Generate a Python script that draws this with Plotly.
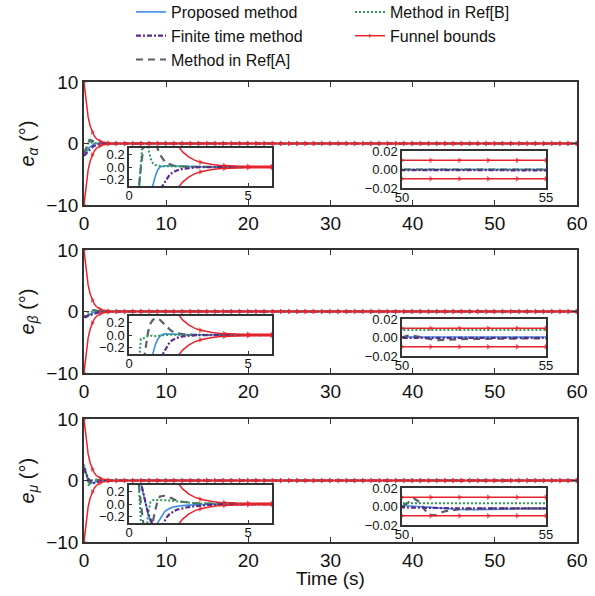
import plotly.graph_objects as go

# ---------------- data ----------------
T_TR = [0, 0.1, 0.2, 0.3, 0.4, 0.5, 0.6, 0.7, 0.8, 0.9, 1.0, 1.1, 1.2, 1.3, 1.4,
        1.5, 1.6, 1.7, 1.8, 1.9, 2.0, 2.25, 2.5, 2.75, 3.0, 3.5, 4.0, 4.5, 5.0, 6.0]
T_SS = [8, 50, 50.2, 50.4, 50.6, 50.8, 51.0, 51.2, 51.4, 51.6, 51.8, 52.0,
        52.5, 53.0, 53.5, 54.0, 54.5, 55.0, 60]

# e_alpha
ALPHA_PROP_TR = [-2.0, -1.75, -1.5, -1.27, -1.05, -0.86, -0.7, -0.57, -0.46, -0.37, -0.29, -0.15,
                 -0.05, 0.0, 0.015, 0.02, 0.02, 0.018, 0.016, 0.014, 0.012, 0.008, 0.006, 0.004,
                 0.003, 0.001, 0.0, 0.0, 0.0, 0.0]
ALPHA_FIN_TR = [-2.0, -1.85, -1.7, -1.55, -1.4, -1.25, -1.1, -0.96, -0.83, -0.71, -0.6, -0.5,
                -0.42, -0.36, -0.31, -0.23, -0.17, -0.125, -0.095, -0.072, -0.055, -0.03, -0.016,
                -0.008, -0.004, -0.001, 0.0, 0.0, 0.0, 0.0]
ALPHA_REFA_TR = [-1.6, -1.3, -1.0, -0.7, -0.38, 0.0, 0.3, 0.5, 0.58, 0.55, 0.48, 0.38, 0.28, 0.2,
                 0.14, 0.09, 0.06, 0.04, 0.03, 0.02, 0.015, 0.008, 0.004, 0.002, 0.001, 0.0, 0.0,
                 0.0, 0.0, 0.0]
ALPHA_REFB_TR = [-1.3, -1.15, -0.95, -0.72, -0.45, 0.1, 0.55, 0.6, 0.32, 0.14, 0.06, 0.03, 0.02,
                 0.015, 0.012, 0.012, 0.011, 0.01, 0.009, 0.008, 0.007, 0.005, 0.003, 0.002, 0.001,
                 0.0, 0.0, 0.0, 0.0, 0.0]
ALPHA_PROP_SS = [0.0, 0.0, 0.0, 0.0, 0.0, 0.0, 0.0, 0.0, 0.0, 0.0, 0.0, 0.0, 0.0, 0.0, 0.0, 0.0,
                 0.0, 0.0, 0.0]
ALPHA_FIN_SS = [-0.0005, -0.0005, -0.0005, -0.0005, -0.0005, -0.0005, -0.0005, -0.0005, -0.0005,
                -0.0005, -0.0005, -0.0005, -0.0006, -0.0007, -0.0008, -0.0009, -0.001, -0.001,
                -0.001]
ALPHA_REFA_SS = [0.0, 0.0, 0.0, 0.0, 0.0, 0.0, 0.0, 0.0, 0.0, 0.0, 0.0, 0.0, 0.0, 0.0, 0.0, 0.0,
                 0.0, 0.0, 0.0]
ALPHA_REFB_SS = [0.0, 0.0, 0.0, 0.0, 0.0, 0.0, 0.0, 0.0, 0.0, 0.0, 0.0, 0.0, 0.0, 0.0, 0.0, 0.0,
                 0.0, 0.0, 0.0]

# e_beta
BETA_PROP_TR = [-0.9, -0.85, -0.8, -0.72, -0.65, -0.58, -0.52, -0.46, -0.4, -0.35, -0.3, -0.16,
                -0.07, -0.02, 0.01, 0.02, 0.02, 0.018, 0.015, 0.013, 0.01, 0.007, 0.005, 0.003,
                0.002, 0.001, 0.0005, 0.0005, 0.0005, 0.0005]
BETA_FIN_TR = [-0.9, -0.87, -0.84, -0.8, -0.76, -0.72, -0.68, -0.63, -0.58, -0.53, -0.48, -0.43,
               -0.38, -0.34, -0.31, -0.24, -0.17, -0.12, -0.085, -0.06, -0.045, -0.022, -0.01,
               -0.005, -0.002, -0.001, -0.0005, -0.0005, -0.0005, -0.0005]
BETA_REFA_TR = [-0.8, -0.9, -0.95, -0.9, -0.8, -0.65, -0.45, -0.2, 0.05, 0.18, 0.24, 0.26, 0.26,
                0.24, 0.2, 0.16, 0.12, 0.09, 0.06, 0.04, 0.03, 0.015, 0.006, 0.002, 0.0, -0.001,
                -0.0015, -0.0015, -0.0015, -0.0015]
BETA_REFB_TR = [-0.6, -0.9, -1.0, -0.9, -0.5, -0.06, -0.05, -0.04, -0.015, -0.01, -0.02, -0.02,
                -0.015, -0.01, -0.005, 0.0, 0.002, 0.002, 0.002, 0.003, 0.003, 0.003, 0.004, 0.004,
                0.005, 0.005, 0.006, 0.007, 0.007, 0.008]
BETA_PROP_SS = [0.0005, 0.0005, 0.0005, 0.0005, 0.0005, 0.0005, 0.0005, 0.0005, 0.0005, 0.0005,
                0.0005, 0.0005, 0.0005, 0.0005, 0.0005, 0.0005, 0.0005, 0.0005, 0.0005]
BETA_FIN_SS = [-0.0005, -0.0005, -0.0005, -0.0005, -0.0005, -0.0005, -0.0005, -0.0005, -0.0005,
               -0.0005, -0.0005, -0.0005, -0.0005, -0.0005, -0.0005, -0.0005, -0.0005, -0.0005,
               -0.0005]
BETA_REFA_SS = [-0.0015, 0.0, 0.002, 0.0018, 0.0005, -0.001, -0.0025, -0.003, -0.0025, -0.002,
                -0.002, -0.0018, -0.0015, -0.0012, -0.0012, -0.001, -0.001, -0.001, -0.001]
BETA_REFB_SS = [0.008, 0.008, 0.008, 0.008, 0.008, 0.008, 0.008, 0.008, 0.008, 0.008, 0.008,
                0.008, 0.008, 0.008, 0.008, 0.008, 0.008, 0.008, 0.008]

# e_mu
MU_PROP_TR = [2.0, 1.6, 1.25, 0.9, 0.6, 0.32, 0.15, 0.0, -0.15, -0.28, -0.36, -0.36, -0.3, -0.22,
              -0.16, -0.12, -0.09, -0.07, -0.055, -0.045, -0.037, -0.025, -0.017, -0.011, -0.008,
              -0.004, -0.002, -0.001, -0.001, 0.001]
MU_FIN_TR = [2.0, 1.62, 1.27, 0.93, 0.62, 0.34, 0.16, 0.01, -0.14, -0.27, -0.38, -0.43, -0.44,
             -0.4, -0.33, -0.26, -0.2, -0.16, -0.13, -0.11, -0.09, -0.065, -0.048, -0.035,
             -0.025, -0.012, -0.006, -0.003, -0.002, -0.001]
MU_REFA_TR = [2.2, 1.7, 1.2, 0.75, 0.35, 0.0, -0.3, -0.42, -0.42, -0.36, -0.28, -0.1, 0.05, 0.12,
              0.13, 0.13, 0.12, 0.11, 0.09, 0.07, 0.055, 0.035, 0.022, 0.013, 0.008, 0.003, 0.001,
              0.0, 0.0, -0.001]
MU_REFB_TR = [2.6, 2.2, 1.6, 0.9, 0.35, -0.3, -0.9, -0.6, -0.15, 0.03, 0.06, 0.065, 0.065, 0.065,
              0.065, 0.06, 0.06, 0.055, 0.05, 0.045, 0.04, 0.03, 0.02, 0.013, 0.009, 0.005, 0.004,
              0.0035, 0.0035, 0.0035]
MU_PROP_SS = [0.0, 0.001, 0.0008, 0.0004, 0.0, -0.0005, -0.001, -0.0015, -0.002, -0.0025, -0.003,
              -0.0033, -0.0035, -0.0035, -0.003, -0.0025, -0.002, -0.002, -0.002]
MU_FIN_SS = [-0.001, -0.001, -0.001, -0.0012, -0.0013, -0.0014, -0.0015, -0.0016, -0.0017,
             -0.0018, -0.0019, -0.002, -0.002, -0.002, -0.002, -0.002, -0.002, -0.002, -0.002]
MU_REFA_SS = [-0.002, 0.0, 0.004, 0.009, 0.005, -0.004, -0.009, -0.0095, -0.006, -0.0045,
              -0.0035, -0.003, -0.0025, -0.002, -0.002, -0.002, -0.002, -0.002, -0.002]
MU_REFB_SS = [0.0035, 0.0035, 0.0035, 0.0035, 0.0035, 0.0035, 0.0035, 0.0035, 0.0035, 0.0035,
              0.0035, 0.0035, 0.0035, 0.0035, 0.0035, 0.0035, 0.0035, 0.0035, 0.0035]

# funnel bounds (same in every panel)
FUNNEL_T = [0, 0.25, 0.5, 0.75, 1, 1.25, 1.5, 1.75, 2, 2.25, 2.5, 2.75, 3, 3.25, 3.5, 3.75, 4,
            4.5, 5, 6] + list(range(7, 61))
FUNNEL_V = [10.0, 6.57, 4.32, 2.84, 1.87, 1.23, 0.81, 0.54, 0.357, 0.238, 0.16, 0.109, 0.075,
            0.052, 0.038, 0.028, 0.022, 0.015, 0.012, 0.0104] + [0.01] * 54

PANEL_LABELS = ["<i>e</i><sub><i>α</i></sub> (°)", "<i>e</i><sub><i>β</i></sub> (°)",
                "<i>e</i><sub><i>μ</i></sub> (°)"]
MAIN_TICKS = [0, 10, 20, 30, 40, 50, 60]

SERIES = [
    ("Proposed method", [(ALPHA_PROP_TR, ALPHA_PROP_SS), (BETA_PROP_TR, BETA_PROP_SS), (MU_PROP_TR, MU_PROP_SS)]),
    ("Method in Ref[A]", [(ALPHA_REFA_TR, ALPHA_REFA_SS), (BETA_REFA_TR, BETA_REFA_SS), (MU_REFA_TR, MU_REFA_SS)]),
    ("Method in Ref[B]", [(ALPHA_REFB_TR, ALPHA_REFB_SS), (BETA_REFB_TR, BETA_REFB_SS), (MU_REFB_TR, MU_REFB_SS)]),
    ("Finite time method", [(ALPHA_FIN_TR, ALPHA_FIN_SS), (BETA_FIN_TR, BETA_FIN_SS), (MU_FIN_TR, MU_FIN_SS)]),
]

STYLES = {
    "Proposed method": dict(color="#3d8ee6", width=1.6, dash="solid", legend="legend", rank=1),
    "Finite time method": dict(color="#5b2a8c", width=2.2, dash="5px,2px,2px,2px", legend="legend", rank=2),
    "Method in Ref[A]": dict(color="#5a5f69", width=2.2, dash="7px,5px", legend="legend", rank=3),
    "Method in Ref[B]": dict(color="#2f9a57", width=2.0, dash="2px,2px", legend="legend2", rank=1),
}
RED = "#e8232b"

# ---------------- layout geometry (pixels of a 595x596 canvas) ----------------
W, H = 595, 596
def px_x(a, b):
    return [a / W, b / W]
def px_y(top, bottom):
    return [1 - bottom / H, 1 - top / H]

PANEL_TOPS = [82, 250, 419]
PANEL_H = 123
MAIN_LEFT, MAIN_RIGHT = 84, 577

fig = go.Figure()
layout = {}
annotations = []
AXC = "#333333"
TXT = "#111111"

def ax_name(k, letter):
    return f"{letter}axis" if k == 1 else f"{letter}axis{k}"
def ref(k, letter):
    return letter if k == 1 else f"{letter}{k}"

def main_axis(**kw):
    d = dict(ticks="inside", ticklen=5, tickwidth=1.2, tickcolor=AXC, showline=True,
             linecolor=AXC, linewidth=1.5, mirror="ticks", showgrid=False, zeroline=False,
             tickfont=dict(size=19, color=TXT))
    d.update(kw)
    return d

def inset_axis(**kw):
    d = dict(ticks="inside", ticklen=3, tickcolor=AXC, showline=True, linecolor=AXC,
             linewidth=1.5, mirror=True, showgrid=False, zeroline=False,
             tickfont=dict(size=13, color=TXT))
    d.update(kw)
    return d

for p in range(3):
    top = PANEL_TOPS[p]
    km, kl, kr = 3 * p + 1, 3 * p + 2, 3 * p + 3
    layout[ax_name(km, "x")] = main_axis(domain=px_x(MAIN_LEFT, MAIN_RIGHT), range=[0, 60],
                                         tickvals=MAIN_TICKS, anchor=ref(km, "y"))
    layout[ax_name(km, "y")] = main_axis(domain=px_y(top, top + PANEL_H), range=[-10, 10],
                                         tickvals=[-10, 0, 10], anchor=ref(km, "x"))
    layout[ax_name(kl, "x")] = inset_axis(domain=px_x(129, 272), range=[0, 6], tickvals=[0, 5],
                                          ticklabelstandoff=-3, anchor=ref(kl, "y"))
    layout[ax_name(kl, "y")] = inset_axis(domain=px_y(top + 66, top + 104), range=[-0.3, 0.3],
                                          tickvals=[-0.2, 0, 0.2], tickformat=".1f",
                                          anchor=ref(kl, "x"))
    layout[ax_name(kr, "x")] = inset_axis(domain=px_x(402, 546), range=[50, 55], tickvals=[50, 55],
                                          ticklabelstandoff=-3, anchor=ref(kr, "y"))
    layout[ax_name(kr, "y")] = inset_axis(domain=px_y(top + 69, top + 106), range=[-0.02, 0.02],
                                          tickvals=[-0.02, 0, 0.02], tickformat=".2f",
                                          anchor=ref(kr, "x"))

    for k in (km, kl, kr):
        xr, yr = ref(k, "x"), ref(k, "y")
        for name, per_panel in SERIES:
            st = STYLES[name]
            tr, ss = per_panel[p]
            fig.add_trace(go.Scatter(
                x=T_TR + T_SS, y=tr + ss, mode="lines", name=name,
                line=dict(color=st["color"], width=st["width"], dash=st["dash"]),
                xaxis=xr, yaxis=yr, legend=st["legend"], legendrank=st["rank"],
                legendgroup=name, showlegend=(k == 1), hoverinfo="skip"))
        sizes = [5 if float(t).is_integer() else 0 for t in FUNNEL_T]
        for sgn in (1, -1):
            fig.add_trace(go.Scatter(
                x=FUNNEL_T, y=[sgn * v for v in FUNNEL_V], mode="lines+markers",
                name="Funnel bounds",
                line=dict(color=RED, width=1.5),
                marker=dict(symbol="triangle-right", size=sizes, color=RED, line=dict(width=0)),
                xaxis=xr, yaxis=yr, legend="legend2", legendrank=2,
                legendgroup="Funnel bounds", showlegend=(k == 1 and sgn == 1), hoverinfo="skip"))

    annotations.append(dict(text=PANEL_LABELS[p], x=28 / W, y=1 - (top + PANEL_H / 2) / H,
                            xref="paper", yref="paper", showarrow=False, textangle=-90,
                            font=dict(size=20, color=TXT), xanchor="center", yanchor="middle"))

annotations.append(dict(text="Time (s)", x=(MAIN_LEFT + MAIN_RIGHT) / 2 / W, y=1 - 578 / H,
                        xref="paper", yref="paper", showarrow=False,
                        font=dict(size=19, color=TXT), xanchor="center", yanchor="middle"))

fig.update_layout(
    width=W, height=H, margin=dict(l=0, r=0, t=0, b=0, autoexpand=False),
    paper_bgcolor="white", plot_bgcolor="white",
    font=dict(family="Arial, Liberation Sans, sans-serif", color=TXT),
    annotations=annotations,
    legend=dict(x=131 / W, y=1 + 5 / H, xanchor="left", yanchor="top", font=dict(size=16),
                tracegroupgap=0, bgcolor="rgba(0,0,0,0)", itemwidth=30),
    legend2=dict(x=350 / W, y=1 + 5 / H, xanchor="left", yanchor="top", font=dict(size=16),
                 tracegroupgap=0, bgcolor="rgba(0,0,0,0)", itemwidth=30),
    **layout,
)

fig.write_html("out.html", config={"displayModeBar": False},
               post_script="document.body.style.margin='0';document.body.style.overflow='hidden';")
